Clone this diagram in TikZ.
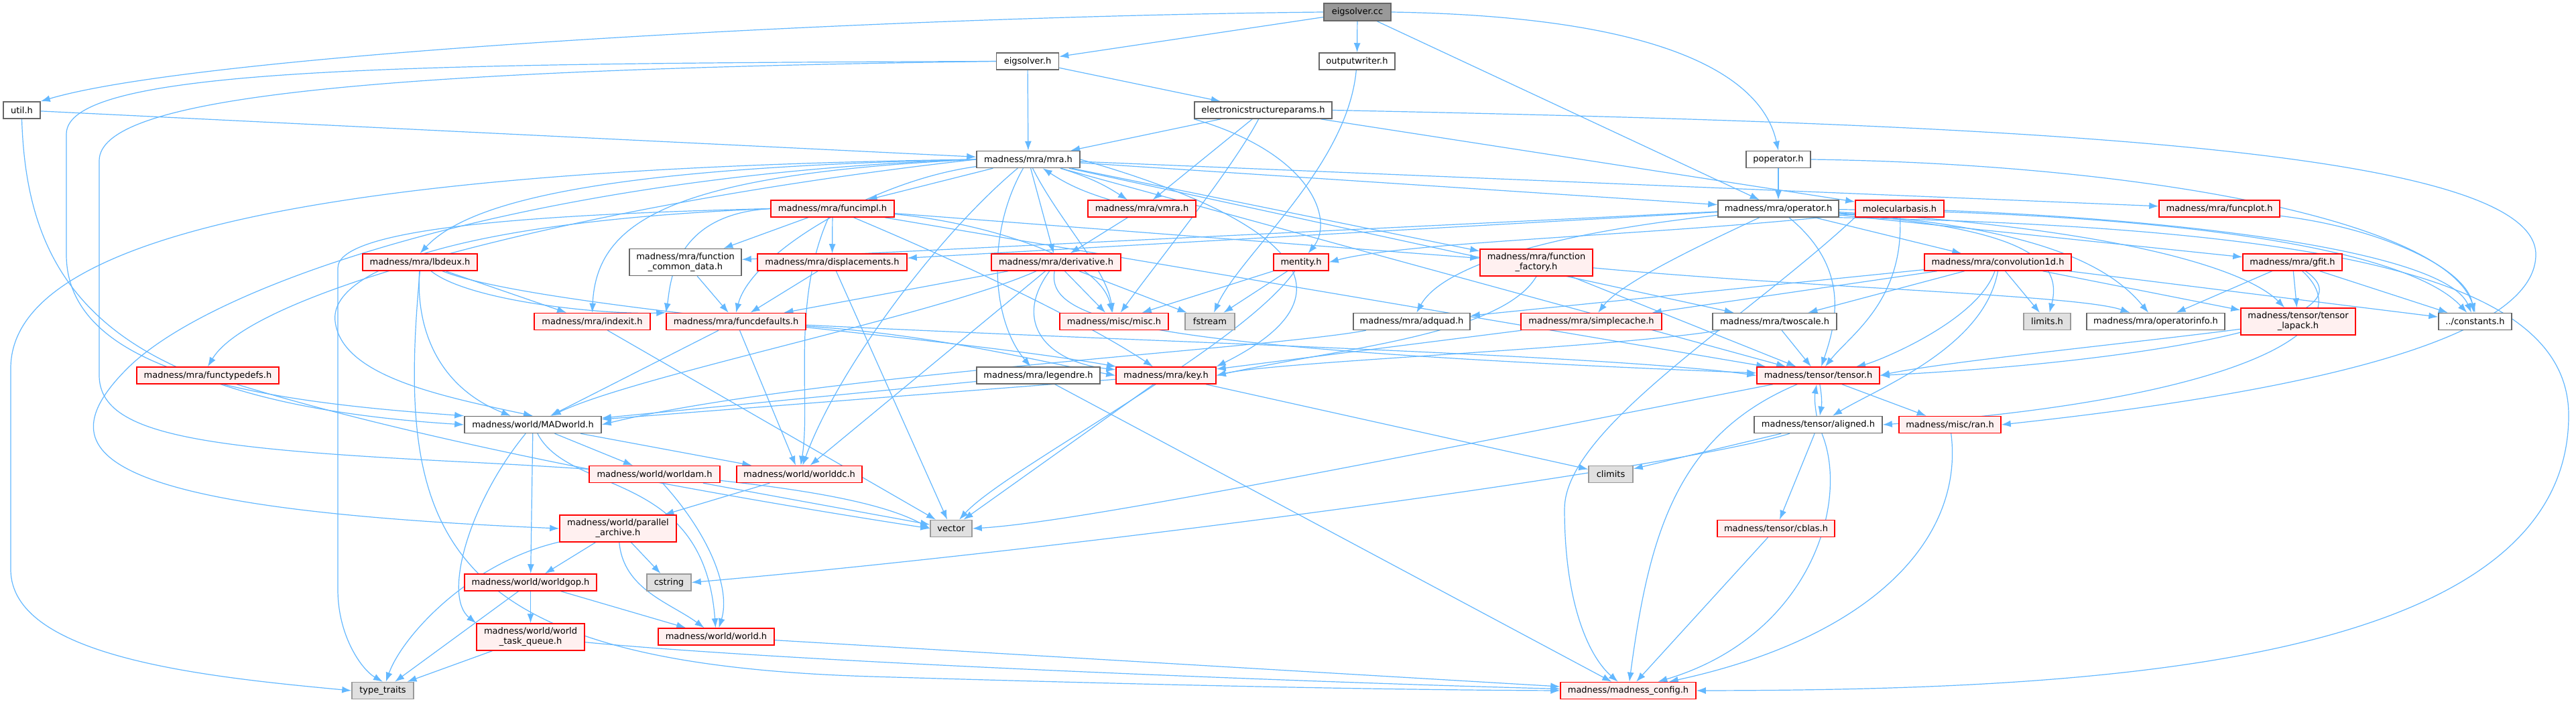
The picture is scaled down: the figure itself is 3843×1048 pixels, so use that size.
\documentclass[tikz,border=0pt]{standalone}
\usepackage{fontspec}
\setmainfont{DejaVu Sans}
\usetikzlibrary{arrows.meta}
\definecolor{edgec}{HTML}{63B8FF}
\definecolor{greyforty}{HTML}{666666}
\definecolor{greysixty}{HTML}{999999}
\definecolor{pinkfill}{HTML}{FFF0F0}
\definecolor{sysfill}{HTML}{E0E0E0}
\definecolor{rootfill}{HTML}{999999}
\newcommand\nodefont{\fontsize{13}{15}\selectfont}
\pgfdeclarelayer{edgelayer}
\pgfsetlayers{edgelayer,main}
\tikzset{
  box/.style={draw=greyforty, fill=white, line width=1.5pt, inner sep=0pt, minimum height=25pt, font=\nodefont, align=center},
  redbox/.style={box, draw=red, fill=pinkfill},
  sysbox/.style={box, draw=greysixty, fill=sysfill},
  rootbox/.style={box, draw=greyforty, fill=rootfill},
  tall/.style={minimum height=40pt},
  dep/.style={draw=edgec, line width=1.2pt, -{Latex[length=14pt,width=10pt]}},
}
\begin{document}
\begin{tikzpicture}[x=1pt,y=-1pt]
\useasboundingbox (0,0) rectangle (3843,1048);

% nodes
\node[rootbox, minimum width=100pt, minimum height=26pt] (cc) at (2025,18) {eigsolver.cc};
\node[box, minimum width=93pt] (eigh) at (1533,91.5) {eigsolver.h};
\node[box, minimum width=113pt] (outw) at (2024.5,91.5) {outputwriter.h};
\node[box, minimum width=55pt] (util) at (32.5,164.5) {util.h};
\node[box, minimum width=205pt] (esp) at (1884.5,164.5) {electronicstructureparams.h};
\node[box, minimum width=154pt] (mra) at (1534,238) {madness/mra/mra.h};
\node[box, minimum width=96pt] (pop) at (2653,238) {poperator.h};
\node[redbox, minimum width=184pt] (fimpl) at (1242,311.5) {madness/mra/funcimpl.h};
\node[redbox, minimum width=161pt] (vmra) at (1703.5,311.5) {madness/mra/vmra.h};
\node[box, minimum width=180pt] (oper) at (2653,311.5) {madness/mra/operator.h};
\node[redbox, minimum width=132pt] (molb) at (2834,311.5) {molecularbasis.h};
\node[redbox, minimum width=180pt] (fplot) at (3311,311.5) {madness/mra/funcplot.h};
\node[redbox, minimum width=171pt] (lbd) at (626.5,391.5) {madness/mra/lbdeux.h};
\node[box, tall, minimum width=167pt] (fcd) at (1022.5,391.5) {madness/mra/function\\\_common\_data.h};
\node[redbox, minimum width=223pt] (disp) at (1241.5,391.5) {madness/mra/displacements.h};
\node[redbox, minimum width=193pt] (deriv) at (1575.5,391.5) {madness/mra/derivative.h};
\node[redbox, minimum width=82pt] (ment) at (1941,391.5) {mentity.h};
\node[redbox, tall, minimum width=168pt] (ffac) at (2292,392) {madness/mra/function\\\_factory.h};
\node[redbox, minimum width=219pt] (conv) at (2980.5,391.5) {madness/mra/convolution1d.h};
\node[redbox, minimum width=148pt] (gfit) at (3420,391.5) {madness/mra/gfit.h};
\node[redbox, minimum width=173pt] (idx) at (883.5,480) {madness/mra/indexit.h};
\node[redbox, minimum width=208pt] (fdef) at (1098,480) {madness/mra/funcdefaults.h};
\node[redbox, minimum width=162pt] (misc) at (1662,480) {madness/misc/misc.h};
\node[sysbox, minimum width=74pt] (fstr) at (1805,480) {fstream};
\node[box, minimum width=174pt] (adq) at (2106,480) {madness/mra/adquad.h};
\node[redbox, minimum width=210pt] (scache) at (2374,480) {madness/mra/simplecache.h};
\node[box, minimum width=185pt] (twos) at (2647.5,480) {madness/mra/twoscale.h};
\node[sysbox, minimum width=70pt] (lim) at (3054,480) {limits.h};
\node[box, minimum width=206pt] (opinfo) at (3216,480) {madness/mra/operatorinfo.h};
\node[redbox, tall, minimum width=171pt] (tlap) at (3428.5,480) {madness/tensor/tensor\\\_lapack.h};
\node[box, minimum width=109pt] (const) at (3692.5,480) {../constants.h};
\node[redbox, minimum width=212pt] (ftd) at (310,560.5) {madness/mra/functypedefs.h};
\node[box, minimum width=184pt] (leg) at (1549,560.5) {madness/mra/legendre.h};
\node[redbox, minimum width=149pt] (key) at (1739.5,560.5) {madness/mra/key.h};
\node[redbox, minimum width=183pt] (tens) at (2712.5,560.5) {madness/tensor/tensor.h};
\node[box, minimum width=204pt] (madw) at (795,634) {madness/world/MADworld.h};
\node[box, minimum width=191pt] (alig) at (2712.5,634) {madness/tensor/aligned.h};
\node[redbox, minimum width=152pt] (ran) at (2909,634) {madness/misc/ran.h};
\node[redbox, minimum width=195pt] (wam) at (976.5,708) {madness/world/worldam.h};
\node[redbox, minimum width=187pt] (wdc) at (1192.5,708) {madness/world/worlddc.h};
\node[sysbox, minimum width=66pt] (clim) at (2403,708) {climits};
\node[redbox, tall, minimum width=174pt] (parc) at (922,789) {madness/world/parallel\\\_archive.h};
\node[sysbox, minimum width=62pt] (vec) at (1419,789) {vector};
\node[redbox, minimum width=175pt] (cblas) at (2649.5,789) {madness/tensor/cblas.h};
\node[redbox, minimum width=197pt] (wgop) at (791.5,869.5) {madness/world/worldgop.h};
\node[sysbox, minimum width=66pt] (cstr) at (998,869.5) {cstring};
\node[redbox, tall, minimum width=161pt] (wtq) at (791.5,951) {madness/world/world\\\_task\_queue.h};
\node[redbox, minimum width=173pt] (world) at (1068.5,950.5) {madness/world/world.h};
\node[sysbox, minimum width=92pt] (tt) at (571,1031) {type\_traits};
\node[redbox, minimum width=202pt] (cfg) at (2429,1031) {madness/madness\_config.h};

\begin{pgfonlayer}{edgelayer}
\fill[white] (0,0) rectangle (3843,1048);
% eigsolver.cc
\draw[dep] (cc) -- (eigh);
\draw[dep] (cc) -- (outw);
\draw[dep] (cc) -- (oper);
\draw[dep] (cc.east) .. controls (2500,25) and (2630,120) .. (pop.north);
\draw[dep] (cc.west) .. controls (1300,25) and (300,80) .. (util.north east);
% eigsolver.h
\draw[dep] (eigh) -- (mra);
\draw[dep] (eigh) -- (esp);
\draw[dep] (eigh.west) .. controls (600,95) and (99,100) .. (99,200) -- (99,380) .. controls (99,560) and (400,600) .. (madw.north west);
\draw[dep] (eigh.west) .. controls (500,105) and (148,150) .. (148,240) -- (148,560) .. controls (148,650) and (300,670) .. (700,690) .. controls (1100,710) and (1300,740) .. (vec.west);
% outputwriter.h
\draw[dep] (outw) .. controls (2010,250) and (1850,380) .. (fstr);
% util.h
\draw[dep] (util) -- (mra);
\draw[dep] (util.south) .. controls (40,420) and (150,600) .. (madw.west);
% electronicstructureparams.h
\draw[dep] (esp) -- (mra);
\draw[dep] (esp) -- (vmra);
\draw[dep] (esp) .. controls (1840,250) and (1720,400) .. (misc);
\draw[dep] (esp.south west) .. controls (1960,230) and (1990,330) .. (ment);
\draw[dep] (esp) -- (molb);
\draw[dep] (esp.east) .. controls (3000,185) and (3783,220) .. (3783,380) .. controls (3783,530) and (3300,600) .. (ran.east);
% mra.h
\draw[dep] (mra) -- (fimpl);
\draw[dep] (mra) to[bend left=8] (vmra);
\draw[dep] (vmra) to[bend left=8] (mra);
\draw[dep] (mra) -- (deriv);
\draw[dep] (mra) -- (oper);
\draw[dep] (mra) -- (fplot);
\draw[dep] (mra.west) .. controls (900,250) and (700,300) .. (lbd.north);
\draw[dep] (mra.west) .. controls (1000,260) and (890,330) .. (idx.north);
\draw[dep] (mra) .. controls (1580,330) and (1650,400) .. (misc);
\draw[dep] (mra) -- (ffac);
\draw[dep] (mra) -- (twos);
\draw[dep] (mra.west) .. controls (900,300) and (380,430) .. (ftd.north);
\draw[dep] (mra) .. controls (1470,350) and (1480,480) .. (leg);
\draw[dep] (mra.east) .. controls (1900,320) and (2050,430) .. (key.north east);
\draw[dep] (mra) -- (tens);
\draw[dep] (mra) .. controls (1400,350) and (1250,550) .. (wdc);
\draw[dep] (mra) .. controls (1300,270) and (1120,380) .. (fdef.north);
\draw[dep] (mra.west) .. controls (600,250) and (16,330) .. (16,550) -- (16,850) .. controls (16,980) and (300,1010) .. (tt.west);
\draw[dep] (mra.west) .. controls (800,260) and (320,420) .. (190,550) .. controls (60,680) and (150,760) .. (parc.west);
% vmra.h
\draw[dep] (vmra) -- (deriv);
% funcimpl.h
\draw[dep] (fimpl) -- (fcd);
\draw[dep] (fimpl) -- (disp);
\draw[dep] (fimpl.west) .. controls (1000,320) and (1000,430) .. (fdef.north west);
\draw[dep] (fimpl) -- (ffac);
\draw[dep] (fimpl) .. controls (1500,420) and (1650,500) .. (key);
\draw[dep] (fimpl) -- (tens);
\draw[dep] (fimpl) .. controls (1450,330) and (1640,380) .. (misc);
\draw[dep] (fimpl) .. controls (1180,450) and (1210,600) .. (wdc);
\draw[dep] (fimpl.west) .. controls (800,320) and (504,340) .. (504,400) -- (504,880) .. controls (504,950) and (540,1000) .. (tt.north);
\draw[dep] (fimpl.west) .. controls (700,330) and (490,400) .. (500,480) .. controls (510,560) and (650,590) .. (madw.north);
% operator.h
\draw[dep] (oper) -- (fcd);
\draw[dep] (oper) -- (disp);
\draw[dep] (oper) .. controls (2300,350) and (2150,400) .. (adq);
\draw[dep] (oper) .. controls (2550,360) and (2420,420) .. (scache);
\draw[dep] (oper) -- (conv);
\draw[dep] (oper) -- (gfit);
\draw[dep] (oper) .. controls (3000,340) and (3080,380) .. (lim);
\draw[dep] (oper) .. controls (3050,340) and (3150,400) .. (opinfo);
\draw[dep] (oper) .. controls (3150,340) and (3350,400) .. (tlap);
\draw[dep] (oper) .. controls (3300,320) and (3600,380) .. (const);
\draw[dep] (oper) .. controls (2760,400) and (2740,480) .. (tens);
\draw[dep] (oper.south east) .. controls (3500,340) and (3832,420) .. (3832,620) .. controls (3832,1000) and (3100,1030) .. (cfg.east);
% poperator.h
\draw[dep] (pop) -- (oper);
\draw[dep] (pop.east) .. controls (3200,245) and (3650,330) .. (const.north);
% molecularbasis.h
\draw[dep] (molb) .. controls (2500,350) and (2100,360) .. (ment.east);
\draw[dep] (molb) .. controls (3300,330) and (3650,380) .. (const);
\draw[dep] (molb.south west) .. controls (2600,480) and (2334,640) .. (2334,760) .. controls (2334,900) and (2370,980) .. (cfg);
\draw[dep] (molb) .. controls (2840,450) and (2760,500) .. (tens);
% funcplot.h
\draw[dep] (fplot) .. controls (3550,340) and (3680,400) .. (const);
% lbdeux.h
\draw[dep] (lbd) -- (idx);
\draw[dep] (lbd) .. controls (700,450) and (900,470) .. (fdef.north west);
\draw[dep] (lbd) .. controls (620,500) and (660,580) .. (madw);
\draw[dep] (lbd) .. controls (800,460) and (1400,500) .. (key);
\draw[dep] (lbd.south) .. controls (590,800) and (650,990) .. (1300,1010) .. controls (1800,1025) and (2100,1030) .. (cfg.west);
% function_common_data.h
\draw[dep] (fcd) -- (fdef);
% displacements.h
\draw[dep] (disp) -- (fdef);
\draw[dep] (disp) -- (vec);
% derivative.h
\draw[dep] (deriv) -- (fdef);
\draw[dep] (deriv) -- (misc);
\draw[dep] (deriv) -- (fstr);
\draw[dep] (deriv) .. controls (1400,470) and (950,560) .. (madw);
\draw[dep] (deriv) .. controls (1510,480) and (1560,540) .. (key);
\draw[dep] (deriv) .. controls (1560,480) and (1700,520) .. (tens);
\draw[dep] (deriv) -- (wdc);
% mentity.h
\draw[dep] (ment) -- (misc);
\draw[dep] (ment) -- (fstr);
\draw[dep] (ment) .. controls (1850,520) and (1500,700) .. (vec);
% function_factory.h
\draw[dep] (ffac) -- (tens);
\draw[dep] (ffac.south) .. controls (2240,500) and (2000,520) .. (key.east);
\draw[dep] (ffac) .. controls (2700,430) and (3100,440) .. (opinfo);
% convolution1d.h
\draw[dep] (conv) -- (adq);
\draw[dep] (conv) -- (scache);
\draw[dep] (conv) -- (twos);
\draw[dep] (conv) -- (lim);
\draw[dep] (conv) -- (tlap);
\draw[dep] (conv) -- (const);
\draw[dep] (conv) .. controls (2950,480) and (2800,540) .. (tens);
\draw[dep] (conv.south) .. controls (2960,520) and (2800,580) .. (alig);
% gfit.h
\draw[dep] (gfit) -- (opinfo);
\draw[dep] (gfit) -- (tlap);
\draw[dep] (gfit) -- (const);
\draw[dep] (gfit) .. controls (3550,480) and (3200,540) .. (tens.east);
\draw[dep] (gfit) .. controls (3540,500) and (3300,600) .. (alig.east);
% indexit.h
\draw[dep] (idx) -- (vec);
% funcdefaults.h
\draw[dep] (fdef) -- (madw);
\draw[dep] (fdef) -- (wdc);
\draw[dep] (fdef) .. controls (1400,500) and (1550,540) .. (key.west);
\draw[dep] (fdef) .. controls (1700,510) and (2400,530) .. (tens.west);
% adquad, simplecache, twoscale, tensor_lapack
\draw[dep] (adq) .. controls (1900,520) and (1200,560) .. (madw.east);
\draw[dep] (scache) -- (key);
\draw[dep] (twos) -- (tens);
\draw[dep] (twos) .. controls (2400,520) and (1900,540) .. (key.east);
\draw[dep] (tlap) .. controls (3200,510) and (2900,540) .. (tens.east);
% functypedefs.h
\draw[dep] (ftd) .. controls (700,680) and (1200,760) .. (vec.west);
% legendre.h
\draw[dep] (leg) -- (madw);
\draw[dep] (leg) -- (cfg);
% key.h
\draw[dep] (key) -- (madw);
\draw[dep] (key) -- (vec);
\draw[dep] (key) -- (clim);
% tensor.h
\draw[dep] (tens) to[bend left=10] (alig);
\draw[dep] (alig) to[bend left=10] (tens);
\draw[dep] (tens) -- (ran);
\draw[dep] (tens) .. controls (2000,700) and (1600,780) .. (vec.east);
\draw[dep] (tens) .. controls (2500,650) and (2460,800) .. (cfg);
% MADworld.h
\draw[dep] (madw) -- (wam);
\draw[dep] (madw) -- (wdc);
\draw[dep] (madw) -- (wgop);
\draw[dep] (madw) .. controls (700,750) and (660,890) .. (wtq.north west);
\draw[dep] (madw) .. controls (850,740) and (1050,700) .. (world);
% worldam.h, worlddc.h
\draw[dep] (wam) -- (vec);
\draw[dep] (wam) .. controls (1060,800) and (1090,880) .. (world);
\draw[dep] (wdc) -- (parc);
% parallel_archive.h
\draw[dep] (parc) -- (wgop);
\draw[dep] (parc) -- (cstr);
\draw[dep] (parc) .. controls (700,840) and (600,950) .. (tt);
\draw[dep] (parc) .. controls (930,880) and (1000,900) .. (world);
% worldgop.h
\draw[dep] (wgop) -- (wtq);
\draw[dep] (wgop) -- (tt);
\draw[dep] (wgop) -- (world);
% world_task_queue.h, world.h
\draw[dep] (wtq) -- (tt);
\draw[dep] (wtq) .. controls (1200,990) and (2000,1020) .. (cfg);
\draw[dep] (world) -- (cfg);
% aligned.h
\draw[dep] (alig) -- (clim);
\draw[dep] (alig) -- (cblas);
\draw[dep] (alig) .. controls (2760,750) and (2700,950) .. (cfg);
\draw[dep] (alig) .. controls (2500,700) and (1600,820) .. (cstr.east);
% cblas.h, ran.h
\draw[dep] (cblas) -- (cfg);
\draw[dep] (ran) .. controls (2930,800) and (2800,950) .. (cfg);
\end{pgfonlayer}
\end{tikzpicture}
\end{document}
